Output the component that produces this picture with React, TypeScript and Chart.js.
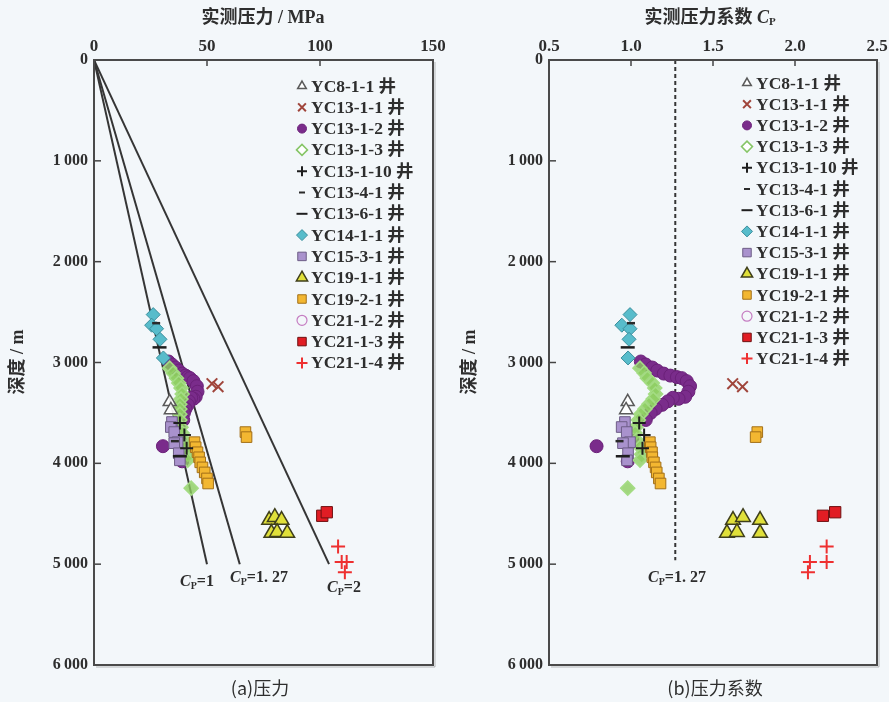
import React, { useEffect, useRef } from 'react';
import { Chart, registerables } from 'chart.js';
import { drawPoint } from 'chart.js/helpers';

Chart.register(...registerables);

// ---------------- data ----------------
const wellNames = [
  'YC8-1-1 井', 'YC13-1-1 井', 'YC13-1-2 井', 'YC13-1-3 井', 'YC13-1-10 井', 'YC13-4-1 井', 'YC13-6-1 井',
  'YC14-1-1 井', 'YC15-3-1 井', 'YC19-1-1 井', 'YC19-2-1 井', 'YC21-1-2 井', 'YC21-1-3 井', 'YC21-1-4 井',
];

const pressureTicks = [0, 50, 100, 150];
const cpTicks = [0.5, 1.0, 1.5, 2.0, 2.5];
const depthTicks = [0, 1000, 2000, 3000, 4000, 5000, 6000];

const depthYC8_1_1 = [3390, 3470];
const pressureYC8_1_1 = [33.5, 34.0];
const cpYC8_1_1 = [0.98, 0.97];

const depthYC13_1_1 = [3210, 3240];
const pressureYC13_1_1 = [52.2, 54.9];
const cpYC13_1_1 = [1.62, 1.68];

const depthYC13_1_2 = [2990, 3020, 3050, 3080, 3110, 3130, 3145, 3155, 3185, 3235, 3290, 3340, 3360, 3350, 3385, 3420, 3460, 3500, 3570, 3830, 3780, 3980];
const pressureYC13_1_2 = [33.0, 34.5, 36.0, 37.5, 39.0, 40.5, 41.5, 42.5, 44.0, 45.5, 45.8, 45.0, 44.0, 43.0, 42.0, 41.5, 40.5, 39.8, 39.5, 30.5, 38.0, 39.0];
const cpYC13_1_2 = [1.06, 1.09, 1.13, 1.16, 1.2, 1.24, 1.28, 1.31, 1.34, 1.36, 1.35, 1.33, 1.29, 1.255, 1.225, 1.19, 1.15, 1.12, 1.09, 0.79, 1.01, 0.98];

const depthYC13_1_3 = [3056, 3105, 3155, 3204, 3254, 3313, 3363, 3413, 3462, 3512, 3571, 3641, 3700, 3770, 3839, 3909, 3968, 4246];
const pressureYC13_1_3 = [33.5, 35.0, 36.5, 37.5, 38.5, 39.0, 38.5, 38.0, 38.0, 38.0, 38.0, 38.5, 39.0, 40.0, 40.5, 41.5, 41.5, 43.0];
const cpYC13_1_3 = [1.055, 1.08, 1.1, 1.13, 1.145, 1.15, 1.135, 1.11, 1.085, 1.06, 1.045, 1.03, 1.025, 1.035, 1.055, 1.065, 1.055, 0.98];

const depthYC13_1_10 = [3600, 3720, 3850];
const pressureYC13_1_10 = [38.0, 40.0, 41.0];
const cpYC13_1_10 = [1.05, 1.08, 1.07];

const depthYC13_4_1 = [2610, 3780];
const pressureYC13_4_1 = [27.5, 35.8];
const cpYC13_4_1 = [1.0, 0.93];

const depthYC13_6_1 = [2850, 3930];
const pressureYC13_6_1 = [29.0, 38.0];
const cpYC13_6_1 = [0.98, 0.95];

const depthYC14_1_1 = [2525, 2630, 2665, 2770, 2955];
const pressureYC14_1_1 = [26.2, 25.5, 27.7, 29.2, 30.7];
const cpYC14_1_1 = [0.994, 0.944, 0.994, 0.988, 0.982];

const depthYC15_3_1 = [3590, 3640, 3690, 3790, 3800, 3900, 3970];
const pressureYC15_3_1 = [34.5, 34.0, 35.5, 37.0, 35.5, 37.5, 38.0];
const cpYC15_3_1 = [0.963, 0.943, 0.974, 0.994, 0.951, 0.982, 0.976];

const depthYC19_1_1 = [4563, 4534, 4563, 4692, 4683, 4692];
const pressureYC19_1_1 = [77.5, 80.0, 83.0, 78.5, 81.0, 85.5];
const cpYC19_1_1 = [1.622, 1.683, 1.787, 1.585, 1.646, 1.787];

const depthYC19_2_1 = [3790, 3840, 3890, 3940, 3990, 4040, 4090, 4150, 4200, 3690, 3740];
const pressureYC19_2_1 = [44.5, 45.0, 45.8, 46.5, 47.0, 48.0, 49.0, 50.0, 50.5, 67.0, 67.5];
const cpYC19_2_1 = [1.115, 1.12, 1.128, 1.13, 1.14, 1.15, 1.157, 1.17, 1.18, 1.77, 1.76];

const depthYC21_1_2: number[] = [];
const pressureYC21_1_2: number[] = [];
const cpYC21_1_2: number[] = [];

const depthYC21_1_3 = [4520, 4485];
const pressureYC21_1_3 = [101.0, 103.0];
const cpYC21_1_3 = [2.17, 2.245];

const depthYC21_1_4 = [4825, 4978, 4978, 5080];
const pressureYC21_1_4 = [108.0, 109.6, 111.8, 111.0];
const cpYC21_1_4 = [2.193, 2.091, 2.193, 2.079];

// reference lines (pressure coefficient lines)
const refLineDepth = [0, 5000];
const cp1LinePressure = [0, 50];
const cp127LinePressure = [0, 64.5];
const cp2LinePressure = [0, 104];
const cp127VerticalCp = [1.27, 1.27];
const cp127VerticalDepth = [0, 4960];

// ---------------- styles ----------------
type Style = {
  pointStyle: string; radius: number; bg: string; border: string; bw: number;
  legendRadius: number; legendBg?: string; order?: number;
};

const styles: Style[] = [
  { pointStyle: 'triangle', radius: 7.5, bg: 'rgba(255,255,255,0.9)', border: '#5a5a5a', bw: 1.5, legendRadius: 5 },
  { pointStyle: 'crossRot', radius: 7.5, bg: '#a0453b', border: '#a0453b', bw: 2, legendRadius: 5.5 },
  { pointStyle: 'circle', radius: 6.5, bg: '#7a2c8b', border: '#6b2179', bw: 1, legendRadius: 4.5, order: 5 },
  { pointStyle: 'rectRot', radius: 7, bg: 'rgba(140,205,95,0.8)', border: '#a4dc84', bw: 1.5, legendRadius: 5.5, legendBg: '#ffffff', order: 4 },
  { pointStyle: 'cross', radius: 6.5, bg: '#1e1e1e', border: '#1e1e1e', bw: 2, legendRadius: 5 },
  { pointStyle: 'line', radius: 4, bg: '#2a2a2a', border: '#2a2a2a', bw: 2.5, legendRadius: 3 },
  { pointStyle: 'line', radius: 7, bg: '#1e1e1e', border: '#1e1e1e', bw: 2.5, legendRadius: 5.5 },
  { pointStyle: 'rectRot', radius: 7, bg: '#57bccb', border: '#3b8e9c', bw: 1, legendRadius: 5.5 },
  { pointStyle: 'rect', radius: 7.5, bg: '#a992cd', border: '#6d5d86', bw: 1, legendRadius: 6 },
  { pointStyle: 'triangle', radius: 8.5, bg: '#e0e03a', border: '#3f3f1c', bw: 1.5, legendRadius: 6.5 },
  { pointStyle: 'rect', radius: 7.5, bg: '#f3b731', border: '#a26f18', bw: 1, legendRadius: 6 },
  { pointStyle: 'circle', radius: 5, bg: 'rgba(255,255,255,0)', border: '#c57dc2', bw: 1.2, legendRadius: 5 },
  { pointStyle: 'rect', radius: 8, bg: '#e11d24', border: '#6e1010', bw: 1, legendRadius: 6 },
  { pointStyle: 'cross', radius: 7, bg: '#ee3030', border: '#ee3030', bw: 2, legendRadius: 5.5 },
];

const wellDepths = [depthYC8_1_1, depthYC13_1_1, depthYC13_1_2, depthYC13_1_3, depthYC13_1_10, depthYC13_4_1, depthYC13_6_1, depthYC14_1_1, depthYC15_3_1, depthYC19_1_1, depthYC19_2_1, depthYC21_1_2, depthYC21_1_3, depthYC21_1_4];
const wellPressures = [pressureYC8_1_1, pressureYC13_1_1, pressureYC13_1_2, pressureYC13_1_3, pressureYC13_1_10, pressureYC13_4_1, pressureYC13_6_1, pressureYC14_1_1, pressureYC15_3_1, pressureYC19_1_1, pressureYC19_2_1, pressureYC21_1_2, pressureYC21_1_3, pressureYC21_1_4];
const wellCps = [cpYC8_1_1, cpYC13_1_1, cpYC13_1_2, cpYC13_1_3, cpYC13_1_10, cpYC13_4_1, cpYC13_6_1, cpYC14_1_1, cpYC15_3_1, cpYC19_1_1, cpYC19_2_1, cpYC21_1_2, cpYC21_1_3, cpYC21_1_4];

const SERIF = "'Liberation Serif', 'Noto Sans CJK SC', serif";
const CJK = "'Noto Sans CJK SC', sans-serif";
const INK = '#2e2e2e';

type Part = { text: string; font: string; dy?: number };

function drawRich(ctx: CanvasRenderingContext2D, parts: Part[], cx: number, cy: number) {
  ctx.save();
  ctx.fillStyle = INK;
  ctx.textBaseline = 'middle';
  ctx.textAlign = 'left';
  const widths = parts.map((p) => { ctx.font = p.font; return ctx.measureText(p.text).width; });
  const total = widths.reduce((a, b) => a + b, 0);
  let x = cx - total / 2;
  parts.forEach((p, i) => {
    ctx.font = p.font;
    ctx.fillText(p.text, x, cy + (p.dy || 0));
    x += widths[i];
  });
  ctx.restore();
}

function cpLabel(value: string): Part[] {
  return [
    { text: 'C', font: `italic bold 16px ${SERIF}` },
    { text: 'P', font: `bold 10px ${SERIF}`, dy: 4 },
    { text: '=' + value, font: `bold 16px ${SERIF}` },
  ];
}

type PanelCfg = {
  left: number; width: number; xMin: number; xMax: number; xTicks: number[]; xFmt: (v: number) => string;
  yAxisWidth: number; padRight: number; values: number[][]; refLines: { x: number[]; y: number[]; dash: number[] }[];
  legendY0: number; legendStep: number;
  texts: (ctx: CanvasRenderingContext2D, chart: any) => void;
};

function Panel({ cfg }: { cfg: PanelCfg }) {
  const ref = useRef<HTMLCanvasElement>(null);
  useEffect(() => {
    const canvas = ref.current!;
    const wellSets = wellNames.map((name, i) => {
      const s = styles[i];
      return {
        label: name,
        data: wellDepths[i].map((d, j) => ({ x: cfg.values[i][j], y: d })),
        pointStyle: s.pointStyle,
        pointRadius: s.radius,
        pointBackgroundColor: s.bg,
        pointBorderColor: s.border,
        pointBorderWidth: s.bw,
        showLine: false,
        order: s.order ?? 0,
      };
    });
    const lineSets = cfg.refLines.map((l) => ({
      label: '',
      data: l.x.map((x, j) => ({ x, y: l.y[j] })),
      showLine: true,
      pointRadius: 0,
      borderColor: '#353535',
      borderWidth: 2,
      borderDash: l.dash,
      order: 10,
    }));

    const decor = {
      id: 'decor',
      afterDraw(chart: any) {
        const ctx: CanvasRenderingContext2D = chart.ctx;
        const a = chart.chartArea;
        const xs = chart.scales.x;
        const ys = chart.scales.y;
        ctx.save();
        // inward ticks
        ctx.strokeStyle = '#444';
        ctx.lineWidth = 1.5;
        cfg.xTicks.forEach((t) => {
          const px = xs.getPixelForValue(t);
          if (px - a.left < 2 || a.right - px < 2) return;
          ctx.beginPath(); ctx.moveTo(px, a.top); ctx.lineTo(px, a.top + 6); ctx.stroke();
        });
        depthTicks.forEach((t) => {
          const py = ys.getPixelForValue(t);
          if (py - a.top < 2 || a.bottom - py < 2) return;
          ctx.beginPath(); ctx.moveTo(a.left, py); ctx.lineTo(a.left + 7, py); ctx.stroke();
        });
        // frame
        ctx.strokeStyle = '#4a4a4a';
        ctx.lineWidth = 2;
        ctx.strokeRect(a.left, a.top, a.right - a.left, a.bottom - a.top);
        ctx.strokeStyle = 'rgba(120,120,120,0.5)';
        ctx.lineWidth = 1;
        ctx.beginPath();
        ctx.moveTo(a.right + 2, a.top + 2); ctx.lineTo(a.right + 2, a.bottom + 2); ctx.lineTo(a.left + 2, a.bottom + 2);
        ctx.stroke();
        // legend
        wellNames.forEach((name, i) => {
          const s = styles[i];
          const y = cfg.legendY0 + i * cfg.legendStep;
          ctx.fillStyle = s.legendBg || s.bg;
          ctx.strokeStyle = i === 3 ? '#86c566' : s.border;
          ctx.lineWidth = s.pointStyle === 'line' || s.pointStyle.startsWith('cross') ? 2 : Math.max(1, s.bw);
          drawPoint(ctx, { pointStyle: s.pointStyle as any, radius: s.legendRadius, rotation: 0, borderWidth: 1 } as any, 302, y);
          ctx.fillStyle = INK;
          ctx.font = `bold 17.5px ${SERIF}`;
          ctx.textAlign = 'left';
          ctx.textBaseline = 'middle';
          ctx.fillText(name, 311, y + 1);
        });
        ctx.restore();
        cfg.texts(ctx, chart);
      },
    };

    const tickFont = { family: SERIF, size: 17, weight: 'bold' as const };
    const chart = new Chart(canvas, {
      type: 'scatter',
      data: { datasets: [...wellSets, ...lineSets] as any },
      options: {
        responsive: false,
        animation: false,
        layout: { padding: { left: 0, top: 0, right: cfg.padRight, bottom: 37 } },
        plugins: { legend: { display: false }, tooltip: { enabled: false } },
        scales: {
          x: {
            type: 'linear', position: 'top', min: cfg.xMin, max: cfg.xMax,
            afterBuildTicks: (s: any) => { s.ticks = cfg.xTicks.map((v) => ({ value: v })); },
            ticks: { callback: (v: any) => cfg.xFmt(Number(v)), font: tickFont, color: INK, padding: 3, maxRotation: 0, autoSkip: false },
            grid: { display: false, drawTicks: false },
            border: { display: false },
            afterFit: (s: any) => { s.height = 60; s.paddingLeft = 0; s.paddingRight = 0; },
          },
          y: {
            type: 'linear', reverse: true, min: 0, max: 6000,
            afterBuildTicks: (s: any) => { s.ticks = depthTicks.map((v) => ({ value: v })); },
            ticks: {
              callback: (v: any) => (Number(v) === 0 ? '0' : `${Number(v) / 1000}\u2009000`),
              font: { family: SERIF, size: 16, weight: 'bold' as const }, color: INK, padding: 6, autoSkip: false,
            },
            grid: { display: false, drawTicks: false },
            border: { display: false },
            afterFit: (s: any) => { s.width = cfg.yAxisWidth; s.paddingTop = 0; s.paddingBottom = 0; },
          },
        },
      } as any,
      plugins: [decor],
    });
    return () => chart.destroy();
  }, []);
  return <canvas ref={ref} width={cfg.width} height={702} style={{ position: 'absolute', left: cfg.left, top: 0 }} />;
}

const leftCfg: PanelCfg = {
  left: 0, width: 445, xMin: 0, xMax: 150, xTicks: pressureTicks, xFmt: (v) => String(v),
  yAxisWidth: 94, padRight: 12, values: wellPressures,
  refLines: [
    { x: cp1LinePressure, y: refLineDepth, dash: [] },
    { x: cp127LinePressure, y: refLineDepth, dash: [] },
    { x: cp2LinePressure, y: refLineDepth, dash: [] },
  ],
  legendY0: 86, legendStep: 21.3,
  texts: (ctx) => {
    drawRich(ctx, [{ text: '实测压力 / MPa', font: `bold 18px ${SERIF}` }], 263, 18);
    ctx.save();
    ctx.translate(18, 362); ctx.rotate(-Math.PI / 2);
    drawRich(ctx, [{ text: '深度 / m', font: `bold 18px ${SERIF}` }], 0, 0);
    ctx.restore();
    drawRich(ctx, [{ text: '(a)压力', font: `18px ${CJK}` }], 260, 688);
    drawRich(ctx, cpLabel('1'), 197, 582);
    drawRich(ctx, cpLabel('1. 27'), 259, 578);
    drawRich(ctx, cpLabel('2'), 344, 588);
  },
};

const rightCfg: PanelCfg = {
  left: 445, width: 444, xMin: 0.5, xMax: 2.5, xTicks: cpTicks, xFmt: (v) => v.toFixed(1),
  yAxisWidth: 104, padRight: 12, values: wellCps,
  refLines: [{ x: cp127VerticalCp, y: cp127VerticalDepth, dash: [4, 3] }],
  legendY0: 83, legendStep: 21.2,
  texts: (ctx) => {
    drawRich(ctx, [
      { text: '实测压力系数 ', font: `bold 18px ${SERIF}` },
      { text: 'C', font: `italic bold 18px ${SERIF}` },
      { text: 'P', font: `bold 11px ${SERIF}`, dy: 4 },
    ], 265, 18);
    ctx.save();
    ctx.translate(25, 362); ctx.rotate(-Math.PI / 2);
    drawRich(ctx, [{ text: '深度 / m', font: `bold 18px ${SERIF}` }], 0, 0);
    ctx.restore();
    drawRich(ctx, [{ text: '(b)压力系数', font: `18px ${CJK}` }], 270, 688);
    drawRich(ctx, cpLabel('1. 27'), 232, 578);
  },
};

export default function App() {
  return (
    <div style={{ position: 'fixed', left: 0, top: 0, width: 889, height: 702, background: '#f3f7fa', overflow: 'hidden' }}>
      <Panel cfg={leftCfg} />
      <Panel cfg={rightCfg} />
    </div>
  );
}
